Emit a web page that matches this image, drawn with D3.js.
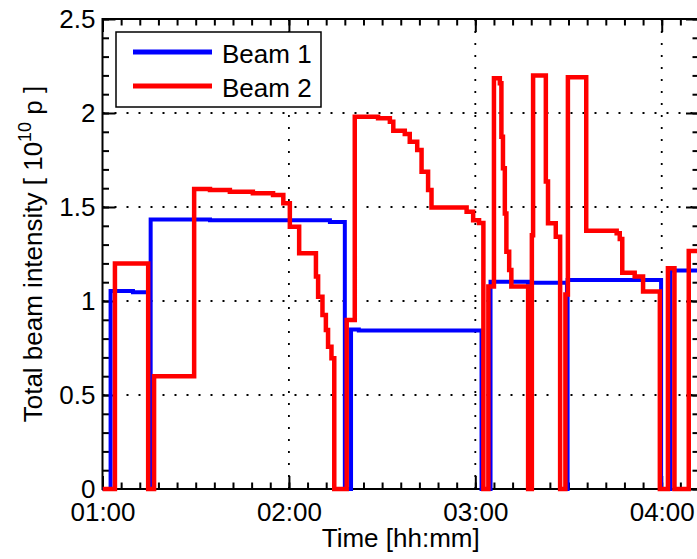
<!DOCTYPE html>
<html>
<head>
<meta charset="utf-8">
<script src="https://cdn.jsdelivr.net/npm/d3@7"></script>
<style>
  body { margin: 0; background: #fff; }
  text { font-family: "Liberation Sans", Arial, sans-serif; fill: #000; }
</style>
</head>
<body>
<div id="chart"></div>
<script>
// beam intensity, step data (time the level starts, value in 1e10 p)
var beam1Times = ["01:00:00","01:02:36","01:09:48","01:15:00","01:15:30","01:34:36","02:13:12","02:18:00","02:20:00","02:22:30",
  "03:02:00","03:04:54","03:17:00","03:29:30","03:29:42","03:59:48","04:02:48","04:12:00"];
var beam1Values = [0,1.053,1.046,0,1.434,1.429,1.42,0,0.849,0.843,0,1.103,1.097,0,1.112,0,1.162,1.162];

var beam2Times = ["01:00:00","01:04:00","01:14:42","01:16:36","01:29:30","01:34:36","01:41:00","01:48:24","01:54:54","01:58:12",
  "02:00:18","02:03:18","02:08:42","02:09:24","02:10:48","02:11:54","02:12:36","02:13:42","02:14:36","02:18:36",
  "02:21:12","02:28:42","02:32:30","02:33:36","02:37:18","02:38:54","02:41:18","02:42:42","02:44:48","02:45:54",
  "02:57:12","02:59:18","03:01:12","03:02:36","03:04:12","03:06:00","03:07:54","03:08:24","03:08:54","03:09:30",
  "03:10:00","03:10:54","03:11:36","03:17:00","03:18:12","03:18:36","03:22:42","03:23:24","03:25:54","03:27:18",
  "03:29:00","03:29:48","03:35:42","03:45:30","03:46:30","03:47:18","03:51:18","03:54:00","03:59:24","04:02:00",
  "04:04:06","04:08:42","04:12:00"];
var beam2Values = [0,1.20,0,0.60,1.596,1.590,1.581,1.573,1.564,1.52,
  1.395,1.254,1.13,1.023,0.926,0.846,0.757,0.695,0,0.899,
  1.98,1.972,1.954,1.906,1.888,1.847,1.803,1.688,1.59,1.498,
  1.475,1.43,1.415,0,1.077,2.185,2.158,1.874,1.706,1.466,
  1.262,1.165,1.077,0,1.35,2.20,1.635,1.413,1.342,0,
  1.035,2.19,1.374,1.36,1.33,1.15,1.13,1.05,0,1.174,
  0,1.266,1.266];

var xTickLabels = ["01:00","02:00","03:00","04:00"];
var yTickLabels = ["0","0.5","1","1.5","2","2.5"];
var seriesNames = ["Beam 1","Beam 2"];
var seriesColors = ["#0000ff","#ff0000"];

var W = 697, H = 559;
var pL = 102.5, pR = 699, pT = 19, pB = 489;

var parse = d3.timeParse("%H:%M:%S");
var parseHM = d3.timeParse("%H:%M");

var x = d3.scaleTime()
  .domain([parse("01:00:00"), parse("04:12:00")])
  .range([pL, pR]);
var y = d3.scaleLinear().domain([0, 2.5]).range([pB, pT]);

var svg = d3.select("#chart").append("svg")
  .attr("width", W).attr("height", H);

var xMajor = xTickLabels.map(function(s) { return parseHM(s); });
var yMajor = yTickLabels.map(function(s) { return +s; });

// dotted grid
var grid = svg.append("g")
  .attr("stroke", "#000").attr("stroke-width", 1.8)
  .attr("stroke-dasharray", "2,10");
grid.selectAll("line.gx")
  .data(xMajor.filter(function(d) { return x(d) > pL + 1 && x(d) < pR - 1; }))
  .enter().append("line")
    .attr("x1", function(d) { return x(d); }).attr("x2", function(d) { return x(d); })
    .attr("y1", pB).attr("y2", pT);
grid.selectAll("line.gy")
  .data(yMajor.filter(function(d) { return d > 0 && d < 2.5; }))
  .enter().append("line")
    .attr("y1", function(d) { return y(d); }).attr("y2", function(d) { return y(d); })
    .attr("x1", pL).attr("x2", pR);

// ticks on all four sides, pointing in
function styleAxis(g) {
  g.select(".domain").remove();
  g.selectAll(".tick line").attr("stroke", "#000").attr("stroke-width", 2);
  g.selectAll(".tick text").style("font-size", "26px");
}
var minorX = x.ticks(d3.timeMinute.every(6));
var minorY = d3.range(0, 26).map(function(i) { return i / 10; });

svg.append("g").attr("transform", "translate(0," + pB + ")")
  .call(d3.axisBottom(x).tickValues(minorX).tickSize(-6.5).tickFormat(""))
  .call(styleAxis);
svg.append("g").attr("transform", "translate(0," + pT + ")")
  .call(d3.axisTop(x).tickValues(minorX).tickSize(-6.5).tickFormat(""))
  .call(styleAxis);
svg.append("g").attr("transform", "translate(0," + pB + ")")
  .call(d3.axisBottom(x).tickValues(xMajor).tickSize(-13).tickPadding(14)
    .tickFormat(function(d, i) { return xTickLabels[i]; }))
  .call(styleAxis);
svg.append("g").attr("transform", "translate(0," + pT + ")")
  .call(d3.axisTop(x).tickValues(xMajor).tickSize(-13).tickFormat(""))
  .call(styleAxis);

svg.append("g").attr("transform", "translate(" + pL + ",0)")
  .call(d3.axisLeft(y).tickValues(minorY).tickSize(-6.5).tickFormat(""))
  .call(styleAxis);
svg.append("g").attr("transform", "translate(" + pR + ",0)")
  .call(d3.axisRight(y).tickValues(minorY).tickSize(-6.5).tickFormat(""))
  .call(styleAxis);
svg.append("g").attr("transform", "translate(" + pL + ",0)")
  .call(d3.axisLeft(y).tickValues(yMajor).tickSize(-13).tickPadding(7)
    .tickFormat(function(d, i) { return yTickLabels[i]; }))
  .call(styleAxis);
svg.append("g").attr("transform", "translate(" + pR + ",0)")
  .call(d3.axisRight(y).tickValues(yMajor).tickSize(-13).tickFormat(""))
  .call(styleAxis);

svg.append("rect")
  .attr("x", pL).attr("y", pT)
  .attr("width", pR - pL).attr("height", pB - pT)
  .attr("fill", "none").attr("stroke", "#000").attr("stroke-width", 2);

// lines
svg.append("clipPath").attr("id", "clip")
  .append("rect").attr("x", pL).attr("y", pT - 6)
  .attr("width", pR - pL).attr("height", pB - pT + 12);

var line = d3.line()
  .curve(d3.curveStepAfter)
  .x(function(d) { return x(d.t); })
  .y(function(d) { return y(d.v); });

var series = [
  { name: seriesNames[0], color: seriesColors[0], width: 4,
    data: beam1Times.map(function(t, i) { return { t: parse(t), v: beam1Values[i] }; }) },
  { name: seriesNames[1], color: seriesColors[1], width: 4.5,
    data: beam2Times.map(function(t, i) { return { t: parse(t), v: beam2Values[i] }; }) }
];

svg.append("g").attr("clip-path", "url(#clip)")
  .selectAll("path")
  .data(series)
  .enter().append("path")
    .attr("d", function(d) { return line(d.data); })
    .attr("fill", "none")
    .attr("stroke", function(d) { return d.color; })
    .attr("stroke-width", function(d) { return d.width; })
    .attr("stroke-linejoin", "miter");

// legend
var lg = svg.append("g");
lg.append("rect")
  .attr("x", 116).attr("y", 32).attr("width", 205).attr("height", 75)
  .attr("fill", "#fff").attr("stroke", "#000").attr("stroke-width", 1.5);
var item = lg.selectAll("g.item")
  .data(series)
  .enter().append("g")
    .attr("transform", function(d, i) { return "translate(0," + (52 + i * 34) + ")"; });
item.append("line")
  .attr("x1", 133).attr("x2", 212)
  .attr("stroke", function(d) { return d.color; })
  .attr("stroke-width", 5);
item.append("text")
  .attr("x", 222).attr("y", 11)
  .style("font-size", "26px")
  .text(function(d) { return d.name; });

// axis titles
svg.append("text")
  .attr("x", (pL + pR) / 2).attr("y", 547)
  .attr("text-anchor", "middle")
  .style("font-size", "26px")
  .text("Time [hh:mm]");

var yl = svg.append("text")
  .attr("transform", "translate(42," + ((pT + pB) / 2) + ") rotate(-90)")
  .attr("text-anchor", "middle")
  .style("font-size", "26px");
yl.append("tspan").text("Total beam intensity [ 10");
yl.append("tspan").attr("dy", -11).style("font-size", "18px").text("10");
yl.append("tspan").attr("dy", 11).text(" p ]");
</script>
</body>
</html>
